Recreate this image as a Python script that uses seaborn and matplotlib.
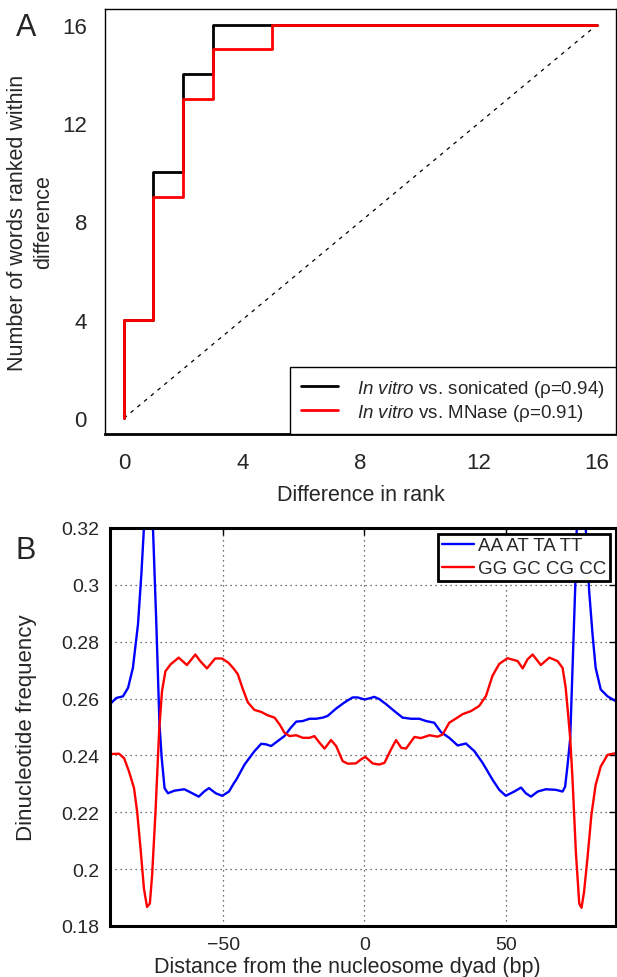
import matplotlib
matplotlib.use("Agg")
import matplotlib.pyplot as plt
import seaborn as sns
import pandas as pd

# ---------------- Panel A data ----------------
diff_rank = list(range(17))
sonicated = [4, 10, 14, 16, 16, 16, 16, 16, 16, 16, 16, 16, 16, 16, 16, 16, 16]
mnase = [4, 9, 13, 15, 15, 16, 16, 16, 16, 16, 16, 16, 16, 16, 16, 16, 16]
a_ticks = [0, 4, 8, 12, 16]
label_son = r"$\mathit{In\ vitro}$ vs. sonicated (ρ=0.94)"
label_mna = r"$\mathit{In\ vitro}$ vs. MNase (ρ=0.91)"

# ---------------- Panel B data ----------------
at_x = [-89.5, -87.8, -85.4, -83.6, -81.9, -80.1, -78.9, -78.0, -77.2, -76.5, -75.8, -74.8,
        -73.6, -72.5, -71.7, -70.7, -69.5, -67.2, -63.7, -61.3, -58.6, -56.7, -55.0, -52.6,
        -50.3, -47.9, -46.2, -45.3, -42.4, -38.9, -36.5, -34.8, -33.0, -30.6, -28.3, -26.0,
        -24.1, -21.8, -19.4, -17.1, -14.7, -13.0, -10.0, -7.1, -4.2, -2.4, 0.0, 1.5, 3.5,
        5.3, 7.7, 10.6, 13.5, 16.5, 19.4, 21.8, 24.7, 27.1, 30.0, 33.0, 35.9, 38.9, 41.8,
        45.3, 47.7, 50.0, 53.0, 55.4, 57.1, 58.9, 61.3, 64.2, 67.7, 70.1, 71.0, 71.8, 72.8,
        73.6, 74.6, 75.5, 76.4, 77.3, 78.3, 79.5, 80.7, 81.8, 83.6, 86.0, 88.9]
at_y = [0.2585, 0.2602, 0.2608, 0.2638, 0.2708, 0.2861, 0.3038, 0.320, 0.334, 0.339, 0.334, 0.320,
        0.286, 0.251, 0.239, 0.2285, 0.2267, 0.2276, 0.2281, 0.2269, 0.2255, 0.2273, 0.2285, 0.2267,
        0.2258, 0.2273, 0.2302, 0.2315, 0.2368, 0.2415, 0.2441, 0.2439, 0.2433, 0.2451, 0.2468, 0.2498,
        0.2519, 0.2521, 0.2529, 0.2529, 0.2533, 0.2539, 0.2565, 0.2586, 0.2604, 0.2604, 0.2597, 0.2600, 0.2606,
        0.2598, 0.2580, 0.2556, 0.2533, 0.2529, 0.2529, 0.2521, 0.2515, 0.2482, 0.2462, 0.2435, 0.2442, 0.2415, 0.2374,
        0.2315, 0.2279, 0.2258, 0.2273, 0.2287, 0.2267, 0.2255, 0.2273, 0.2281, 0.2279, 0.2273, 0.229, 0.236, 0.246,
        0.270, 0.300, 0.335, 0.340, 0.335, 0.320, 0.2979, 0.2826, 0.2708, 0.2632, 0.2608, 0.2591]

gc_x = [-89.5, -86.8, -85.0, -83.3, -81.5, -80.4, -79.2, -78.0, -76.9, -75.9, -75.1, -73.9,
        -72.6, -71.6, -70.4, -68.6, -65.7, -62.8, -59.8, -58.1, -55.7, -52.8, -50.4, -48.1,
        -46.3, -44.8, -43.0, -41.2, -38.9, -36.5, -34.2, -31.8, -30.0, -28.3, -26.5, -24.1,
        -21.8, -19.4, -17.7, -15.9, -14.1, -11.8, -10.0, -7.7, -5.9, -3.0, -1.2, 0.3, 2.9,
        5.3, 7.1, 9.4, 11.2, 13.0, 14.7, 17.7, 20.0, 23.0, 25.9, 27.7, 30.0, 32.4, 34.7,
        37.7, 40.6, 43.0, 45.3, 47.7, 50.6, 54.2, 56.0, 57.7, 59.5, 62.4, 65.4, 68.3, 70.1,
        71.2, 72.1, 72.8, 73.6, 74.8, 76.0, 76.8, 77.7, 78.9, 80.3, 81.8, 83.6, 86.0, 88.9]
gc_y = [0.2405, 0.2406, 0.2390, 0.2344, 0.2285, 0.2202, 0.2073, 0.1932, 0.1867, 0.1879, 0.1979, 0.2202,
        0.2490, 0.2626, 0.2696, 0.2720, 0.2744, 0.2718, 0.2755, 0.2732, 0.2706, 0.2741, 0.2741, 0.2726,
        0.2706, 0.2686, 0.2633, 0.2586, 0.2560, 0.2553, 0.2541, 0.2533, 0.2509, 0.2480, 0.2468, 0.2471,
        0.2462, 0.2462, 0.2468, 0.2445, 0.2424, 0.2454, 0.2433, 0.2380, 0.2371, 0.2372, 0.2386, 0.2395, 0.2372,
        0.2368, 0.2374, 0.2421, 0.2454, 0.2427, 0.2424, 0.2465, 0.2461, 0.2471, 0.2466, 0.2474, 0.2515, 0.2530, 0.2545,
        0.2556, 0.2574, 0.2609, 0.2680, 0.2722, 0.2742, 0.2732, 0.2706, 0.2738, 0.2755, 0.2718, 0.2744, 0.2732, 0.2708,
        0.2638, 0.2540, 0.2460, 0.2320, 0.2061, 0.1879, 0.1864, 0.1920, 0.2038, 0.2191, 0.2296, 0.2361, 0.2402, 0.2408]
b_xticks = [-50, 0, 50]
b_yticks = [0.18, 0.20, 0.22, 0.24, 0.26, 0.28, 0.30, 0.32]
b_yticklabels = ["0.18", "0.2", "0.22", "0.24", "0.26", "0.28", "0.3", "0.32"]
label_at = "AA AT TA TT"
label_gc = "GG GC CG CC"

sns.set_style("white")
plt.rcParams["font.family"] = ["Liberation Sans", "DejaVu Sans"]
plt.rcParams["mathtext.fontset"] = "custom"
plt.rcParams["mathtext.it"] = "Liberation Sans:italic"
plt.rcParams["mathtext.rm"] = "Liberation Sans"
plt.rcParams["axes.unicode_minus"] = True

W, H = 617, 978
fig = plt.figure(figsize=(W / 100, H / 100), dpi=100)

def box(l, t, r, b):
    return [l / W, 1 - b / H, (r - l) / W, (b - t) / H]

# ---------------- Panel A ----------------
axA = fig.add_axes(box(105, 10, 616, 435))
dfA = pd.DataFrame({"x": [0] + diff_rank, "son": [0] + sonicated, "mna": [0] + mnase})
axA.plot([0, 16], [0, 16], ls=(0, (3, 4)), color="black", lw=0.9)
sns.lineplot(data=dfA, x="x", y="son", ax=axA, color="black", lw=2.0, sort=False,
             estimator=None, drawstyle="steps-post", label=label_son)
sns.lineplot(data=dfA, x="x", y="mna", ax=axA, color="#ff0000", lw=2.0, sort=False,
             estimator=None, drawstyle="steps-post", label=label_mna)
axA.set_xlim(-0.64, 16.64)
axA.set_ylim(-0.64, 16.64)
axA.set_xticks(a_ticks)
axA.set_yticks(a_ticks)
axA.tick_params(direction="out", length=7, width=1, labelsize=16, pad=6, color="black")
for s in axA.spines.values():
    s.set_color("black")
    s.set_linewidth(1.0)
axA.spines["bottom"].set_linewidth(2.0)
axA.set_xlabel("Difference in rank", fontsize=15.5, labelpad=8)
axA.set_ylabel("Number of words ranked within\ndifference", fontsize=15.5, labelpad=6,
               linespacing=1.3)
legA = axA.legend(loc="lower right", fontsize=13.5, frameon=True, fancybox=False,
                  edgecolor="black", framealpha=1, borderaxespad=0, handlelength=2.0,
                  handletextpad=1.0, borderpad=0.6, labelspacing=0.15)
legA.get_frame().set_linewidth(1.0)
fig.text(26 / W, 1 - 28 / H, "A", fontsize=22, ha="center", va="center")

# ---------------- Panel B ----------------
axB = fig.add_axes(box(110, 529, 616, 927))
sns.lineplot(x=at_x, y=at_y, ax=axB, color="#0000ff", lw=1.7, sort=False, estimator=None,
             label=label_at)
sns.lineplot(x=gc_x, y=gc_y, ax=axB, color="#ff0000", lw=1.7, sort=False, estimator=None,
             label=label_gc)
axB.set_xlim(-90, 89)
axB.set_ylim(0.18, 0.32)
axB.set_xticks(b_xticks)
axB.set_yticks(b_yticks)
axB.set_yticklabels(b_yticklabels)
axB.grid(True, ls=(0, (1, 3)), color="#444444", lw=0.9)
axB.tick_params(direction="in", length=5, width=1, labelsize=14, top=True, right=True,
                pad=7, color="black")
axB.tick_params(axis="y", pad=8)
for s in axB.spines.values():
    s.set_color("black")
    s.set_linewidth(2.2)
axB.set_xlabel("Distance from the nucleosome dyad (bp)", fontsize=15.5)
axB.xaxis.set_label_coords((347.5 - 110) / (616 - 110), -(968 - 927) / (927 - 529))
axB.xaxis.label.set_va("center")
axB.set_ylabel("Dinucleotide frequency", fontsize=16)
axB.yaxis.set_label_coords(-(110 - 27) / (616 - 110), 0.5)
axB.yaxis.label.set_va("center")
legB = axB.legend(loc="upper right", fontsize=13.5, frameon=True, fancybox=False,
                  edgecolor="black", framealpha=1, borderaxespad=0.3, handlelength=1.7,
                  handletextpad=0.25, borderpad=0.2, labelspacing=0.3)
legB.get_frame().set_linewidth(2.0)
fig.text(26 / W, 1 - 551 / H, "B", fontsize=22, ha="center", va="center")

fig.savefig("out.png", dpi=100)
